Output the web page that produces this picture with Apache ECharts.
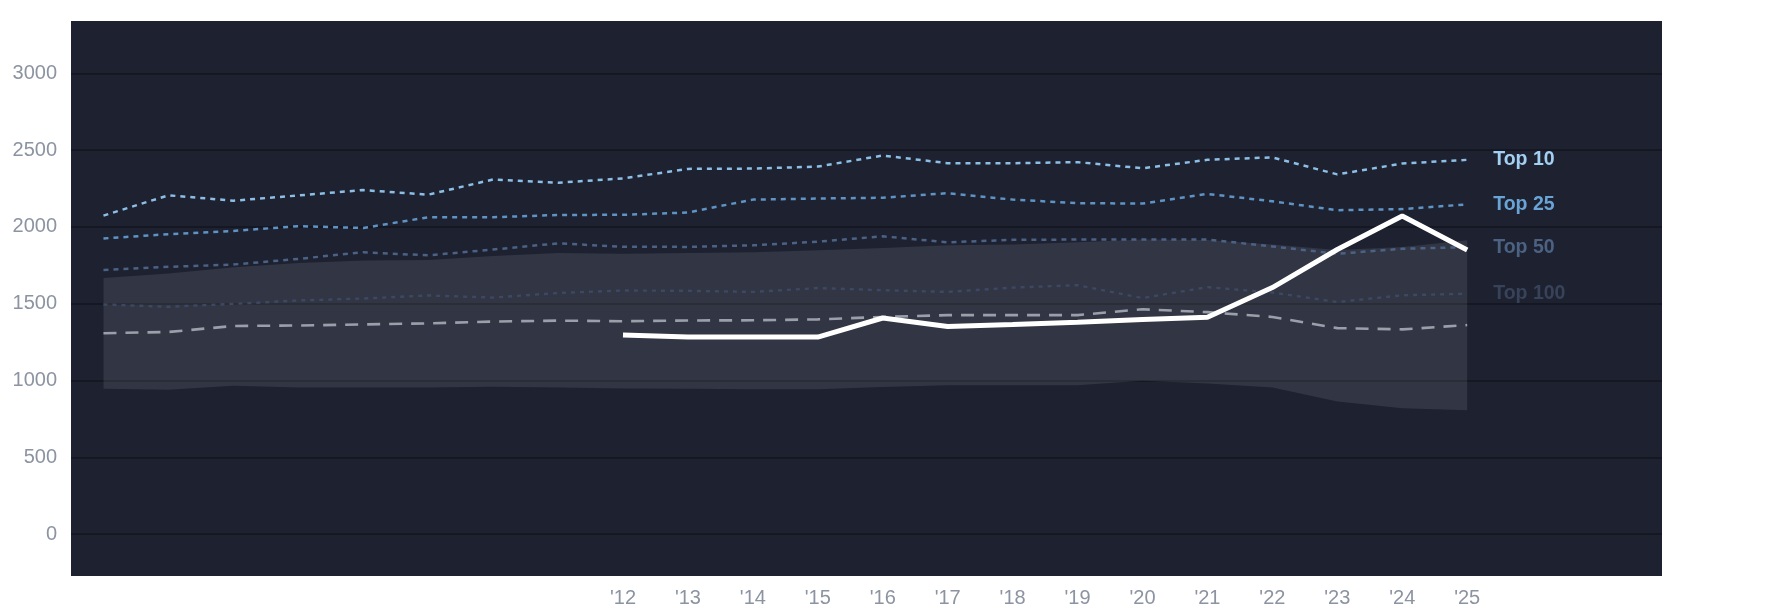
<!DOCTYPE html>
<html>
<head>
<meta charset="utf-8">
<script src="https://cdn.jsdelivr.net/npm/echarts@6/dist/echarts.min.js"></script>
<style>
html,body{margin:0;padding:0;background:#ffffff;}
#chart{width:1785px;height:614px;}
</style>
</head>
<body>
<div id="chart"></div>
<script>
var years = [2004,2005,2006,2007,2008,2009,2010,2011,2012,2013,2014,2015,2016,2017,2018,2019,2020,2021,2022,2023,2024,2025];
var top10  = [2074,2206,2171,2205,2240,2210,2309,2288,2316,2378,2380,2393,2465,2415,2415,2422,2382,2437,2453,2342,2413,2437];
var top25  = [1925,1953,1974,2005,1993,2063,2063,2078,2079,2094,2178,2185,2190,2220,2178,2155,2152,2215,2167,2109,2116,2147];
var top50  = [1720,1740,1755,1792,1835,1815,1853,1893,1871,1870,1880,1904,1939,1900,1916,1918,1918,1918,1873,1825,1858,1868];
var top100 = [1495,1480,1499,1521,1534,1554,1540,1570,1586,1584,1577,1602,1588,1577,1605,1621,1537,1608,1573,1511,1555,1565];
var median = [1308,1316,1355,1358,1365,1372,1384,1390,1386,1391,1392,1398,1414,1426,1426,1426,1464,1445,1414,1341,1333,1361];
var bandLow  = [947,939,966,955,955,955,960,955,948,947,943,943,958,969,969,969,999,980,955,864,820,807];
var bandHigh = [1668,1696,1738,1765,1782,1784,1810,1830,1826,1830,1835,1848,1863,1881,1885,1900,1918,1915,1885,1850,1870,1914];
var teamYears  = [2012,2013,2014,2015,2016,2017,2018,2019,2020,2021,2022,2023,2024,2025];
var teamValues = [1296,1283,1283,1283,1407,1352,1365,1380,1398,1412,1605,1853,2071,1850];
var yTicks = [0,500,1000,1500,2000,2500,3000];
var xTicks = [2012,2013,2014,2015,2016,2017,2018,2019,2020,2021,2022,2023,2024,2025];

function pairs(xs, vs){ return xs.map(function(x,i){ return [x, vs[i]]; }); }

var FONT = 'Liberation Sans, Arial, sans-serif';
var chart = echarts.init(document.getElementById('chart'), null, {renderer:'canvas'});

function tierLine(name, data, lineColor, labelColor, dash, width){
  return {
    name: name, type: 'line', data: pairs(years, data),
    showSymbol: false, symbol: 'none', silent: true,
    lineStyle: {color: lineColor, width: width, type: dash},
    endLabel: {show: true, formatter: name, color: labelColor, fontWeight: 'bold',
      fontSize: 19.5, fontFamily: FONT, distance: 26},
    z: 3
  };
}

var option = {
  animation: false,
  backgroundColor: '#ffffff',
  grid: {left: 71, right: 123, top: 21, bottom: 38, show: true, backgroundColor: '#1d2130', borderWidth: 0},
  xAxis: {
    type: 'value', min: 2003.5, max: 2028,
    axisLine: {show: false},
    axisTick: {show: false, customValues: xTicks},
    splitLine: {show: false},
    axisLabel: {customValues: xTicks, color: '#8c93a1', fontSize: 20, margin: 12, fontFamily: FONT,
      formatter: function(v){ return "'" + String(v).slice(2); }}
  },
  yAxis: {
    type: 'value', min: -273, max: 3341,
    axisLine: {show: false},
    axisTick: {show: false, customValues: yTicks},
    splitLine: {show: true, lineStyle: {color: '#151822', width: 2}},
    axisLabel: {customValues: yTicks, color: '#8c93a1', fontSize: 20, margin: 14, fontFamily: FONT,
      formatter: function(v){ return String(v); }}
  },
  series: [
    {
      type: 'custom', silent: true, z: 1,
      data: [[years[0], bandLow[0]]],
      renderItem: function(params, api){
        var pts = [];
        for (var i = 0; i < years.length; i++) pts.push(api.coord([years[i], bandHigh[i]]));
        for (var j = years.length - 1; j >= 0; j--) pts.push(api.coord([years[j], bandLow[j]]));
        return {type: 'polygon', shape: {points: pts}, style: {fill: 'rgba(255,255,255,0.095)'}};
      }
    },
    tierLine('Top 100', top100, '#3d4963', '#38435a', [4,5], 2.4),
    {
      name: 'median', type: 'line', data: pairs(years, median),
      showSymbol: false, symbol: 'none', silent: true, z: 3,
      lineStyle: {color: '#9aa0ab', width: 2.6, type: [13,9]}
    },
    tierLine('Top 50', top50, '#4b6285', '#4b6282', [5,5], 2.5),
    tierLine('Top 25', top25, '#5f93c4', '#6aa3d5', [5,5], 2.5),
    tierLine('Top 10', top10, '#8dbfe6', '#a3cff2', [5,5], 2.5),
    {
      name: 'team', type: 'line', data: pairs(teamYears, teamValues),
      showSymbol: false, symbol: 'none', silent: true, z: 4,
      lineStyle: {color: '#ffffff', width: 5}
    }
  ]
};
chart.setOption(option);
</script>
</body>
</html>
